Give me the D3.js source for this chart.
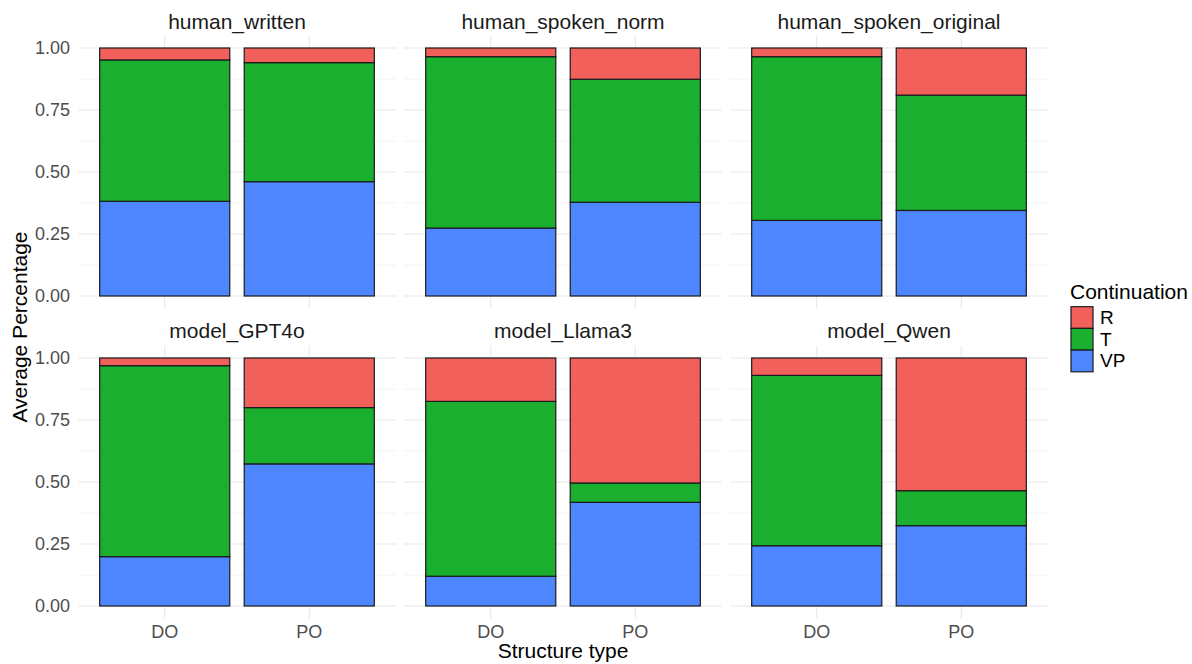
<!DOCTYPE html>
<html>
<head>
<meta charset="utf-8">
<script src="https://cdn.jsdelivr.net/npm/d3@7"></script>
<style>
  body { margin: 0; background: #fff; }
  svg { display: block; font-family: "Liberation Sans", Arial, sans-serif; }
</style>
</head>
<body>
<svg id="chart" width="1192" height="664"></svg>
<script>
// Datos del gráfico
const facets = ['human_written', 'human_spoken_norm', 'human_spoken_original',
                'model_GPT4o', 'model_Llama3', 'model_Qwen'];
const structures = ['DO', 'PO'];
const continuations = ['R', 'T', 'VP'];
const yTicks = [0, 0.25, 0.5, 0.75, 1];
const yMinor = [0.125, 0.375, 0.625, 0.875];

// valores por faceta y estructura (DO, PO, DO, PO, ...)
const vpShare = [0.382, 0.461, 0.274, 0.378, 0.305, 0.345, 0.199, 0.573, 0.120, 0.418, 0.243, 0.324];
const tShare  = [0.570, 0.480, 0.691, 0.496, 0.660, 0.465, 0.770, 0.227, 0.705, 0.078, 0.687, 0.141];
const rShare  = [0.048, 0.059, 0.035, 0.126, 0.035, 0.190, 0.031, 0.200, 0.175, 0.504, 0.070, 0.535];

const colors = { R: '#F2605B', T: '#1AAF2F', VP: '#4D86FF' };

// Construir filas
const rows = [];
facets.forEach((f, i) => {
    structures.forEach((s, j) => {
        const k = i * 2 + j;
        rows.push({ facet: f, structure: s, VP: vpShare[k], T: tShare[k], R: rShare[k] });
    });
});

const svg = d3.select('#chart');
const panelW = 318, panelH = 272.8;
const colX = [78, 404, 730];
const rowY = [35.6, 345.6];

// Apilar: VP abajo, T en medio, R arriba
const stack = d3.stack().keys(['VP', 'T', 'R']);

facets.forEach((f, i) => {
    const col = i % 3, row = Math.floor(i / 3);
    const x0 = colX[col], y0 = rowY[row];
    const g = svg.append('g').attr('transform', `translate(${x0},${y0})`);

    const x = d3.scaleBand().domain(structures).range([0, panelW])
        .paddingInner(0.1).paddingOuter(0.15);
    const y = d3.scaleLinear().domain([-0.05, 1.05]).range([panelH, 0]);

    // Rejilla
    g.selectAll('.minor').data(yMinor).join('line')
        .attr('x1', 0).attr('x2', panelW)
        .attr('y1', d => y(d)).attr('y2', d => y(d))
        .attr('stroke', '#f2f2f2').attr('stroke-width', 1);
    g.selectAll('.major').data(yTicks).join('line')
        .attr('x1', 0).attr('x2', panelW)
        .attr('y1', d => y(d)).attr('y2', d => y(d))
        .attr('stroke', '#e8e8e8').attr('stroke-width', 1.1);
    g.selectAll('.vgrid').data(structures).join('line')
        .attr('x1', d => x(d) + x.bandwidth() / 2).attr('x2', d => x(d) + x.bandwidth() / 2)
        .attr('y1', 0).attr('y2', panelH)
        .attr('stroke', '#e8e8e8').attr('stroke-width', 1.1);

    // Barras
    const data = rows.filter(r => r.facet === f);
    const series = stack(data);
    series.forEach(s => {
        g.selectAll(null).data(s).join('rect')
            .attr('x', d => x(d.data.structure))
            .attr('width', x.bandwidth())
            .attr('y', d => y(d[1]))
            .attr('height', d => y(d[0]) - y(d[1]))
            .attr('fill', colors[s.key])
            .attr('stroke', '#1a1a1a')
            .attr('stroke-width', 1.2);
    });

    // Título de faceta
    g.append('text')
        .attr('x', panelW / 2).attr('y', row === 0 ? 29.3 - y0 : 338.3 - y0)
        .attr('text-anchor', 'middle')
        .attr('font-size', 21).attr('fill', '#1a1a1a')
        .text(f);

    // Eje Y solo en la primera columna
    if (col === 0) {
        const ax = g.append('g')
            .call(d3.axisLeft(y).tickValues(yTicks).tickFormat(d3.format('.2f')).tickSize(0).tickPadding(8));
        ax.select('.domain').remove();
        ax.selectAll('text').attr('font-size', 18).attr('fill', '#4d4d4d')
            .attr('font-family', '"Liberation Sans", Arial, sans-serif');
    }
    // Eje X solo en la fila inferior
    if (row === 1) {
        const ax = g.append('g').attr('transform', `translate(0,${panelH})`)
            .call(d3.axisBottom(x).tickSize(0).tickPadding(7));
        ax.select('.domain').remove();
        ax.selectAll('text').attr('font-size', 18).attr('fill', '#4d4d4d')
            .attr('font-family', '"Liberation Sans", Arial, sans-serif');
    }
});

// Títulos de ejes
svg.append('text')
    .attr('x', 563).attr('y', 657.7)
    .attr('text-anchor', 'middle').attr('font-size', 21).attr('fill', '#000')
    .text('Structure type');
svg.append('text')
    .attr('transform', 'translate(27,327) rotate(-90)')
    .attr('text-anchor', 'middle').attr('font-size', 21).attr('fill', '#000')
    .text('Average Percentage');

// Leyenda
const legend = svg.append('g').attr('transform', 'translate(1071,0)');
legend.append('text')
    .attr('x', -1).attr('y', 299.3)
    .attr('font-size', 21).attr('fill', '#000')
    .text('Continuation');
const keyH = 21.7;
continuations.forEach((c, i) => {
    legend.append('rect')
        .attr('x', 0).attr('y', 306.7 + i * keyH)
        .attr('width', 22).attr('height', keyH)
        .attr('fill', colors[c]).attr('stroke', '#1a1a1a').attr('stroke-width', 1.2);
    legend.append('text')
        .attr('x', 29).attr('y', 306.7 + i * keyH + keyH / 2)
        .attr('dominant-baseline', 'central')
        .attr('font-size', 19).attr('fill', '#000')
        .text(c);
});
</script>
</body>
</html>
